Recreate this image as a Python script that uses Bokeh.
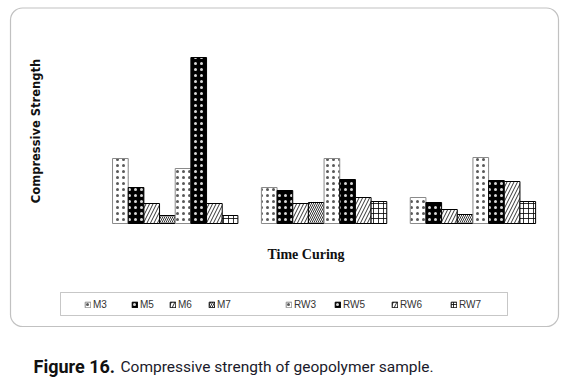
from math import pi
from bokeh.plotting import figure
from bokeh.models import (FactorRange, Range1d, ColumnDataSource, Legend, LegendItem,
                          BoxAnnotation, Label)
from bokeh.transform import dodge
from bokeh.embed import file_html
from bokeh.resources import INLINE

# ---- data (arbitrary strength units) ----
groups = ["7 Days", "14 Days", "28 Days"]
series = ["M3", "M5", "M6", "M7", "RW3", "RW5", "RW6", "RW7"]
M3 = [16.25, 9.0, 6.5]
M5 = [9.0, 8.25, 5.25]
M6 = [5.0, 5.0, 3.5]
M7 = [2.0, 5.25, 2.25]
RW3 = [13.75, 16.25, 16.5]
RW5 = [41.5, 11.0, 10.75]
RW6 = [5.0, 6.5, 10.5]
RW7 = [2.0, 5.5, 5.5]
values = {"M3": M3, "M5": M5, "M6": M6, "M7": M7,
          "RW3": RW3, "RW5": RW5, "RW6": RW6, "RW7": RW7}

# legend entry positions (canvas px, left edge of each key)
legend_x = {"M3": 89, "M5": 136, "M6": 174, "M7": 213,
            "RW3": 290, "RW5": 339, "RW6": 396, "RW7": 455}

styles = {
    "M3":  dict(fill_color="white", hatch_pattern="dot", hatch_color="black", hatch_scale=6, hatch_alpha=0.65, line_color="#8a8a8a"),
    "M5":  dict(fill_color="black", hatch_pattern="dot", hatch_color="white", hatch_scale=6, hatch_alpha=0.85, line_color="black"),
    "M6":  dict(fill_color="white", hatch_pattern="right_diagonal_line", hatch_color="black", hatch_scale=7, line_color="black"),
    "M7":  dict(fill_color="white", hatch_pattern="left_diagonal_line", hatch_color="black", hatch_scale=4, line_color="black"),
    "RW3": dict(fill_color="white", hatch_pattern="dot", hatch_color="black", hatch_scale=6, hatch_alpha=0.65, line_color="#8a8a8a"),
    "RW5": dict(fill_color="black", hatch_pattern="dot", hatch_color="white", hatch_scale=6, hatch_alpha=0.85, line_color="black"),
    "RW6": dict(fill_color="white", hatch_pattern="right_diagonal_line", hatch_color="black", hatch_scale=7, line_color="black"),
    "RW7": dict(fill_color="white", hatch_pattern="cross", hatch_color="black", hatch_scale=5, line_color="black"),
}

factors = [(g, s) for g in groups for s in series]

W, H = 571, 378
p = figure(width=W, height=H, output_backend="svg", toolbar_location=None,
           x_range=FactorRange(factors=factors, range_padding=4.72, range_padding_units="absolute",
                               group_padding=1.5, factor_padding=0),
           y_range=Range1d(-38.75, 55.75),
           x_axis_type=None, y_axis_type=None, min_border=0)
p.outline_line_color = None
p.background_fill_color = "white"
p.border_fill_color = "white"
p.xgrid.visible = False
p.ygrid.visible = False

for s in series:
    src = ColumnDataSource(dict(x=[(g, s) for g in groups], top=values[s]))
    r = p.vbar(x=dodge("x", 2.43, range=p.x_range), top="top", bottom=0, width=1.0, source=src,
               line_width=1, hatch_weight=0.8, **styles[s])
    lg = Legend(items=[LegendItem(label=s, renderers=[r])], orientation="horizontal",
                location=(legend_x[s] - 5, 68), margin=0,
                glyph_width=7, glyph_height=7, label_standoff=2, spacing=0,
                padding=5, border_line_color=None, background_fill_alpha=0,
                label_text_font="Liberation Sans", label_text_font_size="10px",
                label_text_color="#333333")
    p.add_layout(lg, "center")

# outer rounded frame and legend frame
p.add_layout(BoxAnnotation(left=10, right=558, top=7.5, bottom=326,
                           left_units="canvas", right_units="canvas",
                           top_units="canvas", bottom_units="canvas",
                           fill_color=None, line_color="#333333", line_width=1.2,
                           border_radius=12))
p.add_layout(BoxAnnotation(left=60, right=507, top=292, bottom=315,
                           left_units="canvas", right_units="canvas",
                           top_units="canvas", bottom_units="canvas",
                           fill_color=None, line_color="#444444", line_width=1))

p.add_layout(Label(x=35.5, y=130.5, x_units="canvas", y_units="canvas", angle=pi / 2,
                   text="Compressive Strength", text_align="center", text_baseline="middle",
                   text_font="DejaVu Sans", text_font_style="bold", text_font_size="11.5px",
                   text_color="#111111"))
p.add_layout(Label(x=305.5, y=254, x_units="canvas", y_units="canvas",
                   text="Time Curing", text_align="center", text_baseline="alphabetic",
                   text_font="Liberation Serif", text_font_style="bold", text_font_size="14px",
                   text_color="#111111"))
p.add_layout(Label(x=33, y=366, x_units="canvas", y_units="canvas",
                   text="Figure 16.", text_align="left", text_baseline="alphabetic",
                   text_font="Roboto", text_font_style="bold", text_font_size="18px",
                   text_color="#111111"))
p.add_layout(Label(x=120, y=366, x_units="canvas", y_units="canvas",
                   text="Compressive strength of geopolymer sample.", text_align="left",
                   text_baseline="alphabetic",
                   text_font="Roboto", text_font_size="15.5px",
                   text_color="#1a1a2a"))

open("out.html", "w").write(file_html(p, INLINE))
